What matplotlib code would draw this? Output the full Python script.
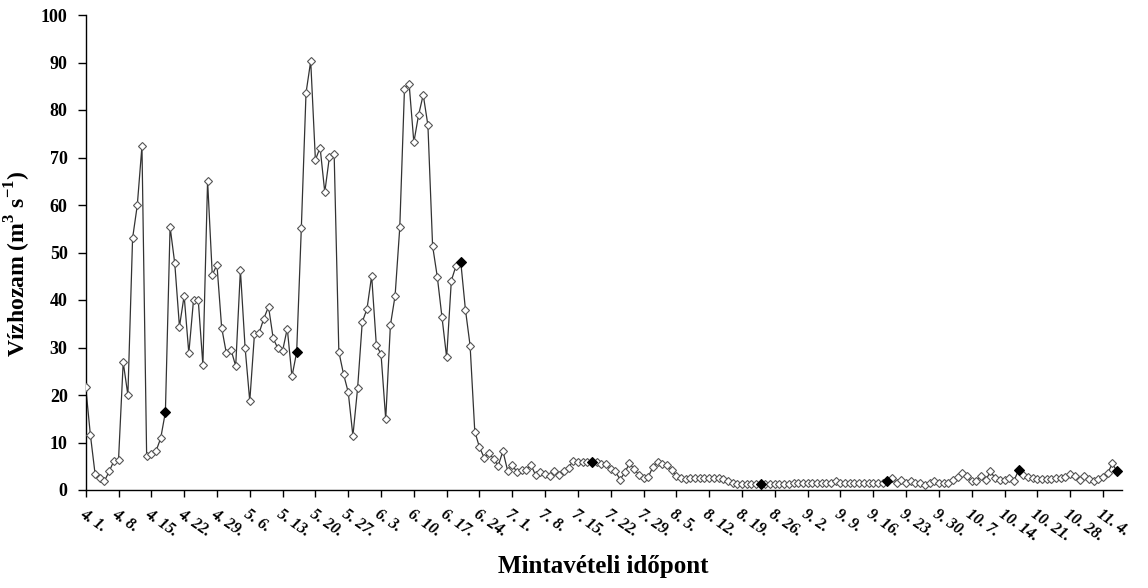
import matplotlib
matplotlib.use("Agg")
import matplotlib.pyplot as plt
import numpy as np

plt.rcParams['font.family'] = ['Liberation Serif', 'DejaVu Serif']
plt.rcParams['mathtext.fontset'] = 'custom'
plt.rcParams['mathtext.rm'] = 'Liberation Serif:bold'
plt.rcParams['mathtext.bf'] = 'Liberation Serif:bold'

# Daily discharge values (m3/s), starting 4. 1.
discharge = [
    21.7, 11.6, 3.4, 2.5, 1.9, 3.9, 6.1, 6.3, 26.9, 20.0,
    53.0, 59.9, 72.4, 7.2, 7.5, 8.2, 10.9, 16.4, 55.4, 47.7,
    34.4, 40.9, 28.8, 40.0, 40.1, 26.3, 65.1, 45.3, 47.4, 34.2,
    28.8, 29.5, 26.1, 46.3, 30.0, 18.7, 32.8, 33.1, 36.1, 38.6,
    31.9, 29.8, 29.3, 34.0, 23.9, 29.0, 55.2, 83.6, 90.3, 69.5,
    72.1, 62.7, 70.2, 70.7, 29.1, 24.4, 20.6, 11.4, 21.4, 35.4,
    38.1, 45.1, 30.5, 28.6, 14.9, 34.7, 40.9, 55.3, 84.4, 85.4,
    73.2, 78.9, 83.2, 76.8, 51.4, 44.9, 36.4, 27.9, 44.1, 47.2,
    48.1, 38.0, 30.4, 12.3, 9.0, 6.8, 7.8, 6.6, 5.1, 8.2,
    4.1, 5.2, 3.8, 4.3, 4.3, 5.2, 3.1, 3.7, 3.4, 3.0,
    3.9, 3.2, 4.0, 4.7, 6.2, 6.0, 5.8, 6.0, 5.8, 6.0,
    5.5, 5.5, 4.4, 3.9, 2.2, 3.7, 5.6, 4.4, 3.2, 2.6,
    2.7, 4.9, 6.0, 5.5, 5.2, 4.2, 3.0, 2.6, 2.3, 2.6,
    2.6, 2.6, 2.6, 2.6, 2.6, 2.6, 2.4, 1.9, 1.4, 1.3,
    1.3, 1.3, 1.3, 1.3, 1.3, 1.3, 1.3, 1.3, 1.3, 1.3,
    1.3, 1.4, 1.4, 1.4, 1.4, 1.4, 1.4, 1.4, 1.4, 1.4,
    1.9, 1.4, 1.4, 1.4, 1.4, 1.4, 1.4, 1.4, 1.4, 1.4,
    1.4, 1.9, 2.6, 1.5, 2.1, 1.4, 1.9, 1.4, 1.5, 1.1,
    1.5, 2.0, 1.4, 1.4, 1.4, 2.2, 2.8, 3.6, 2.9, 1.9,
    1.9, 2.9, 2.1, 3.9, 2.5, 2.2, 2.1, 2.6, 1.9, 4.2,
    3.2, 2.7, 2.5, 2.4, 2.4, 2.4, 2.4, 2.5, 2.6, 2.8,
    3.3, 3.0, 2.2, 2.9, 2.4, 1.9, 2.4, 2.7, 3.5, 5.6,
    3.9,
]
# Sampling days (index of day) shown with filled markers
sampling_days = [17, 45, 80, 108, 144, 171, 199, 220]

tick_labels = ["4. 1.", "4. 8.", "4. 15.", "4. 22.", "4. 29.", "5. 6.", "5. 13.",
               "5. 20.", "5. 27.", "6. 3.", "6. 10.", "6. 17.", "6. 24.", "7. 1.",
               "7. 8.", "7. 15.", "7. 22.", "7. 29.", "8. 5.", "8. 12.", "8. 19.",
               "8. 26.", "9. 2.", "9. 9.", "9. 16.", "9. 23.", "9. 30.", "10. 7.",
               "10. 14.", "10. 21.", "10. 28.", "11. 4."]
tick_step = 7

days = np.arange(len(discharge))
q = np.array(discharge)

fig = plt.figure(figsize=(11.48, 5.88), dpi=100)
ax = fig.add_axes([85.7/1148, 1-490/588, (1121.7-85.7)/1148, (490-15)/588])

ax.plot(days, q, color='#333333', lw=0.9, zorder=2)
ax.plot(days, q, ls='none', marker='D', ms=4.5, mfc='white', mec='#555555', mew=0.8, zorder=3)
sd = np.array(sampling_days)
ax.plot(sd, q[sd], ls='none', marker='D', ms=4.8, mfc='black', mec='black', mew=0.8, zorder=4)

ax.set_xlim(0, 221)
ax.set_ylim(0, 100)
ax.set_yticks(np.arange(0, 101, 10))
ax.set_xticks(np.arange(len(tick_labels)) * tick_step)
ax.set_xticklabels(tick_labels)

for s in ['top', 'right']:
    ax.spines[s].set_visible(False)
for s in ['left', 'bottom']:
    ax.spines[s].set_linewidth(1.0)
    ax.spines[s].set_color('black')

ax.tick_params(axis='y', direction='out', length=6, width=1, pad=7, labelsize=13)
ax.tick_params(axis='x', direction='out', length=5, width=1, pad=7)
for lab in ax.get_yticklabels():
    lab.set_fontweight('bold')
for lab in ax.get_xticklabels():
    lab.set_fontweight('bold')
    lab.set_fontstyle('italic')
    lab.set_fontsize(11.5)
    lab.set_rotation(-35)
    lab.set_ha('left')
    lab.set_va('top')
    lab.set_rotation_mode('anchor')

fig.text(18/1148, 1-264/588, r'Vízhozam (m$^{\mathbf{3}}$ s$^{\mathbf{-1}}$)',
         rotation=90, ha='center', va='center', fontsize=17, fontweight='bold')
fig.text(603/1148, 1-567/588, 'Mintavételi időpont', ha='center', va='center',
         fontsize=18, fontweight='bold')

fig.savefig('out.png', dpi=100)
